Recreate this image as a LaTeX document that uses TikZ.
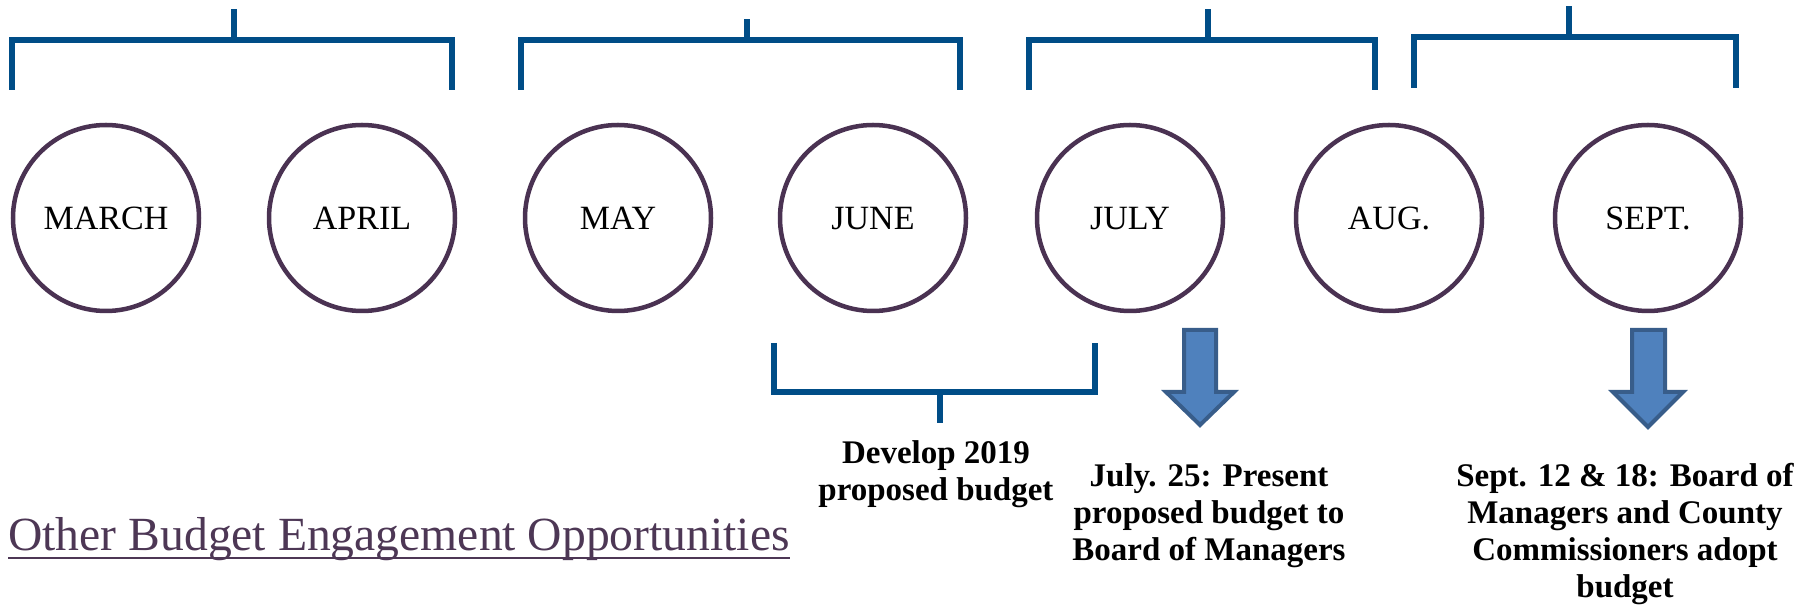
\documentclass[tikz,border=0pt]{standalone}
\usepackage{fontspec}
\setmainfont{Liberation Serif}
\definecolor{brk}{RGB}{0,77,135}
\definecolor{ring}{RGB}{74,50,82}
\definecolor{arrfill}{RGB}{79,129,189}
\definecolor{arredge}{RGB}{56,93,138}
\definecolor{ttl}{RGB}{77,55,85}
\tikzset{
  month/.style={circle, draw=ring, line width=2.25pt, minimum size=93pt, inner sep=0pt,
    font=\fontsize{17}{20}\selectfont, text height=11.3pt, text depth=0pt},
  brack/.style={draw=brk, line width=3.2pt, line join=miter},
  blockarrow/.style={fill=arrfill, draw=arredge, line width=2pt, line join=miter},
  desc/.style={font=\bfseries\fontsize{16.5}{18.5}\selectfont, align=center, inner sep=0pt}
}
\begin{document}
\begin{tikzpicture}[x=0.5pt, y=-0.5pt]
\useasboundingbox (0,0) rectangle (1806,608);
% month circles
\node[month] (mar) at (106,218) {MARCH};
\node[month] (apr) at (362,218) {APRIL};
\node[month] (may) at (618,218) {MAY};
\node[month] (jun) at (873,218) {JUNE};
\node[month] (jul) at (1130,218) {JULY};
\node[month] (aug) at (1389,218) {AUG.};
\node[month] (sep) at (1648,218) {SEPT.};
% top brackets
\draw[brack] (12,90) -- (12,40) -- (452,40) -- (452,90);
\draw[brack] (234,40) -- (234,9);
\draw[brack] (521,90) -- (521,40) -- (960,40) -- (960,90);
\draw[brack] (747,40) -- (747,19);
\draw[brack] (1029,90) -- (1029,40) -- (1375,40) -- (1375,90);
\draw[brack] (1208,40) -- (1208,9);
\draw[brack] (1414,88) -- (1414,37) -- (1736,37) -- (1736,88);
\draw[brack] (1569,37) -- (1569,6);
% lower bracket
\draw[brack] (774,343) -- (774,392) -- (1095,392) -- (1095,343);
\draw[brack] (940,392) -- (940,423);
% block arrows
\draw[blockarrow] (1184,330) -- (1216,330) -- (1216,392) -- (1234,392) -- (1200,425) -- (1166,392) -- (1184,392) -- cycle;
\draw[blockarrow] (1632,330) -- (1665,330) -- (1665,392) -- (1683,392) -- (1648,427) -- (1613,392) -- (1632,392) -- cycle;
% descriptions (anchor=base is the last line's baseline)
\node[desc, anchor=base] (dev) at (936,501) {Develop 2019\\proposed budget};
\node[desc, anchor=base] (pres) at (1209,561) {July. 25: Present\\proposed budget to\\Board of Managers};
\node[desc, anchor=base] (adopt) at (1625,598) {Sept. 12 \& 18: Board of\\Managers and County\\Commissioners adopt\\budget};
% title
\node[anchor=base west, inner sep=0pt, text=ttl, font=\fontsize{23.8}{28}\selectfont] (title) at (8,551) {Other Budget Engagement Opportunities};
\draw[ttl, line width=1.2pt] ([yshift=-3.6pt]title.base west) -- ([yshift=-3.6pt]title.base east);
\end{tikzpicture}
\end{document}
